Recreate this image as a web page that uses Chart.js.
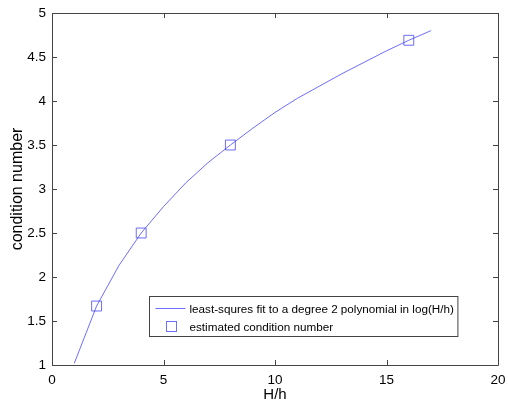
<!DOCTYPE html>
<html>
<head>
<meta charset="utf-8">
<script src="https://cdn.jsdelivr.net/npm/chart.js@4"></script>
<style>
html,body{margin:0;padding:0;background:#fff;}
#wrap{width:508px;height:404px;}
</style>
</head>
<body>
<div id="wrap"><canvas id="c" width="508" height="404"></canvas></div>
<script>
// Data
const fitX = [1,2,3,4,5,6,7,8,9,10,11,12,13,14,15,16,17];
const fitY = [1.02,1.67,2.13,2.50,2.80,3.07,3.30,3.50,3.69,3.87,4.03,4.17,4.31,4.44,4.57,4.69,4.80];
const estX = [2,4,8,16];
const estY = [1.67,2.50,3.50,4.69];
const xTicks = [0,5,10,15,20];
const yTicks = [1,1.5,2,2.5,3,3.5,4,4.5,5];
const fitLabel = 'least-squres fit to a degree 2 polynomial in log(H/h)';
const estLabel = 'estimated condition number';
const xTitle = 'H/h';
const yTitle = 'condition number';

const FONT = '"Liberation Sans", Arial, Helvetica, sans-serif';
const BLUE = 'rgba(60,60,255,0.75)';

const boxPlugin = {
  id: 'boxTicks',
  afterDraw(chart) {
    const ctx = chart.ctx;
    const a = chart.chartArea;
    const xs = chart.scales.x, ys = chart.scales.y;
    ctx.save();
    ctx.strokeStyle = '#444';
    ctx.lineWidth = 1;
    ctx.beginPath();
    ctx.rect(Math.round(a.left)+0.5, Math.round(a.top)+0.5, Math.round(a.right-a.left), Math.round(a.bottom-a.top));
    ctx.stroke();
    const tl = 5;
    ctx.beginPath();
    xTicks.forEach(v => {
      const px = Math.round(xs.getPixelForValue(v)) + 0.5;
      ctx.moveTo(px, a.bottom); ctx.lineTo(px, a.bottom - tl);
      ctx.moveTo(px, a.top); ctx.lineTo(px, a.top + tl);
    });
    yTicks.forEach(v => {
      const py = Math.round(ys.getPixelForValue(v)) + 0.5;
      ctx.moveTo(a.left, py); ctx.lineTo(a.left + tl, py);
      ctx.moveTo(a.right, py); ctx.lineTo(a.right - tl, py);
    });
    ctx.stroke();

    // legend
    ctx.font = '11.7px ' + FONT;
    const w1 = ctx.measureText(chart.data.datasets[0].label).width;
    const bw = w1 + 44;
    const bh = 40;
    const bx = Math.round(a.right - 41 - bw) + 0.5;
    const by = Math.round(a.bottom - 29 - bh) + 0.5;
    ctx.fillStyle = '#fff';
    ctx.fillRect(bx, by, bw, bh);
    ctx.strokeStyle = '#444';
    ctx.strokeRect(bx, by, bw, bh);
    const r1 = by + 12, r2 = by + 30;
    ctx.strokeStyle = BLUE;
    ctx.beginPath();
    ctx.moveTo(bx + 6, Math.round(r1)-0.5); ctx.lineTo(bx + 36, Math.round(r1)-0.5);
    ctx.stroke();
    ctx.strokeRect(Math.round(bx + 16) + 0.5, Math.round(r2 - 6) + 0.5, 10, 10);
    ctx.fillStyle = '#000';
    ctx.textBaseline = 'middle';
    ctx.textAlign = 'left';
    ctx.fillText(chart.data.datasets[0].label, bx + 40, r1 + 1);
    ctx.fillText(chart.data.datasets[1].label, bx + 40, r2 + 1);
    ctx.restore();
  }
};

new Chart(document.getElementById('c'), {
  type: 'scatter',
  data: {
    datasets: [
      {
        label: fitLabel,
        data: fitX.map((x, i) => ({x: x, y: fitY[i]})),
        showLine: true,
        borderColor: BLUE,
        borderWidth: 1,
        pointRadius: 0,
        fill: false,
        tension: 0
      },
      {
        label: estLabel,
        data: estX.map((x, i) => ({x: x, y: estY[i]})),
        showLine: false,
        pointStyle: 'rect',
        pointRadius: 7,
        borderColor: BLUE,
        borderWidth: 1,
        backgroundColor: 'rgba(0,0,0,0)'
      }
    ]
  },
  options: {
    responsive: false,
    animation: false,
    devicePixelRatio: 1,
    layout: { padding: { top: 13, right: 10, left: 8, bottom: 0 } },
    plugins: { legend: { display: false }, tooltip: { enabled: false } },
    scales: {
      x: {
        type: 'linear', min: 0, max: 20,
        afterBuildTicks(s) { s.ticks = xTicks.map(v => ({value: v})); },
        afterFit(s) { s.height = 39; s.paddingLeft = 0; s.paddingRight = 0; },
        grid: { display: false, drawTicks: false },
        border: { display: false },
        ticks: { color: '#000', font: { family: FONT, size: 13.5 }, padding: 7, maxRotation: 0,
                 callback: v => String(v) },
        title: { display: true, text: xTitle, color: '#000', font: { family: FONT, size: 15 }, padding: { top: 3, bottom: 0 } }
      },
      y: {
        type: 'linear', min: 1, max: 5,
        afterBuildTicks(s) { s.ticks = yTicks.map(v => ({value: v})); },
        afterFit(s) { s.width = 44; s.paddingTop = 0; s.paddingBottom = 0; },
        grid: { display: false, drawTicks: false },
        border: { display: false },
        ticks: { color: '#000', font: { family: FONT, size: 13.5 }, padding: 6,
                 callback: v => String(v) },
        title: { display: true, text: yTitle, color: '#000', font: { family: FONT, size: 16 }, padding: { top: 0, bottom: 0 } }
      }
    }
  },
  plugins: [boxPlugin]
});
</script>
</body>
</html>
